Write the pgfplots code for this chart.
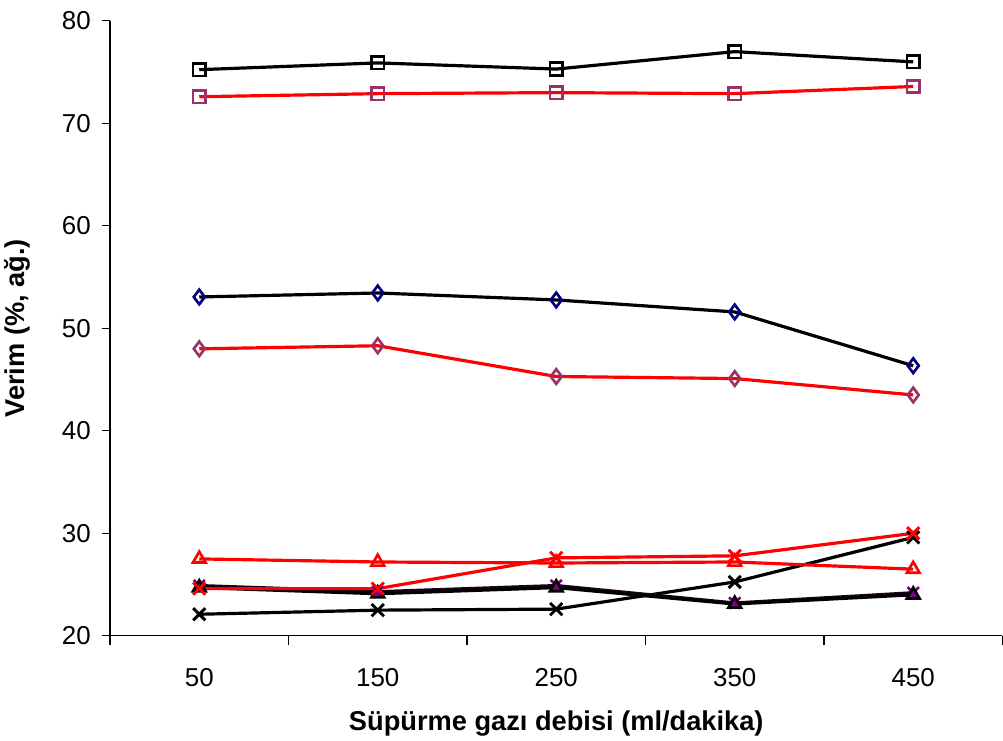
\documentclass[border=0pt]{standalone}
\usepackage{pgfplots}
\pgfplotsset{compat=1.18}
\usepackage{fontspec}
\setmainfont{Liberation Sans}
\definecolor{plum}{HTML}{993366}
\definecolor{navyb}{HTML}{000080}
\definecolor{purp}{HTML}{800080}
\begin{document}
\begin{tikzpicture}
\begin{axis}[
  scale only axis, width=672pt, height=463pt,
  xmin=0, xmax=500, ymin=20, ymax=80,
  axis x line*=bottom, axis y line*=left,
  axis line style={-, line width=0.8pt},
  xtick={50,150,250,350,450},
  minor xtick={0,100,200,300,400,500},
  major x tick style={draw=none},
  minor tick length=7pt,
  ytick={20,30,...,80},
  major tick length=6pt,
  tick align=outside,
  tick style={black, line width=0.8pt},
  /pgf/number format/assume math mode=true,
  ticklabel style={font=\fontsize{19.5}{21}\selectfont},
  xticklabel style={yshift=-15pt},
  yticklabel style={xshift=-5pt},
  xlabel={\textbf{Süpürme gazı debisi (ml/dakika)}},
  ylabel={\textbf{Verim (\%, ağ.)}},
  label style={font=\fontsize{20.5}{22}\selectfont},
  xlabel style={yshift=-11pt},
  ylabel style={yshift=17pt},
  clip=false,
]
% black x
\addplot[black, line width=2.4pt, mark=x, mark size=6.5pt, mark options={line width=2.2pt}] coordinates {(50,22.1)(150,22.5)(250,22.6)(350,25.25)(450,29.6)};
% purple x behind triangles
\addplot[black!80!purp, line width=2.4pt, mark=x, mark size=6pt, mark options={draw=purp, line width=2pt}] coordinates {(50,24.9)(150,24.3)(250,24.9)(350,23.2)(450,24.2)};
% black triangles purple fill
\addplot[black, line width=2.4pt, mark=triangle*, mark size=5.5pt, mark options={fill=purp, draw=black, line width=2pt}] coordinates {(50,24.7)(150,24.1)(250,24.7)(350,23.1)(450,24.0)};
% red x
\addplot[red, line width=2.4pt, mark=x, mark size=6.5pt, mark options={line width=2.2pt}] coordinates {(50,24.6)(150,24.6)(250,27.6)(350,27.8)(450,30.0)};
% red triangles
\addplot[red, line width=2.4pt, mark=triangle, mark size=5.5pt, mark options={line width=2pt}] coordinates {(50,27.5)(150,27.2)(250,27.1)(350,27.2)(450,26.5)};
% red diamonds
\addplot[red, line width=2.4pt, mark=diamond, mark size=5.5pt, mark options={draw=plum, line width=2pt}] coordinates {(50,48.0)(150,48.3)(250,45.3)(350,45.1)(450,43.5)};
% black diamonds
\addplot[black, line width=2.4pt, mark=diamond, mark size=5.5pt, mark options={draw=navyb, line width=2pt}] coordinates {(50,53.06)(150,53.45)(250,52.77)(350,51.6)(450,46.35)};
% red squares
\addplot[red, line width=2.4pt, mark=square, mark size=4.7pt, mark options={draw=plum, line width=2pt}] coordinates {(50,72.6)(150,72.9)(250,73.0)(350,72.9)(450,73.6)};
% black squares
\addplot[black, line width=2.4pt, mark=square, mark size=4.7pt, mark options={line width=2pt}] coordinates {(50,75.24)(150,75.9)(250,75.3)(350,77.0)(450,76.0)};
\end{axis}
\path (current bounding box.north) +(0,5pt) node[inner sep=0pt]{};
\end{tikzpicture}
\end{document}
